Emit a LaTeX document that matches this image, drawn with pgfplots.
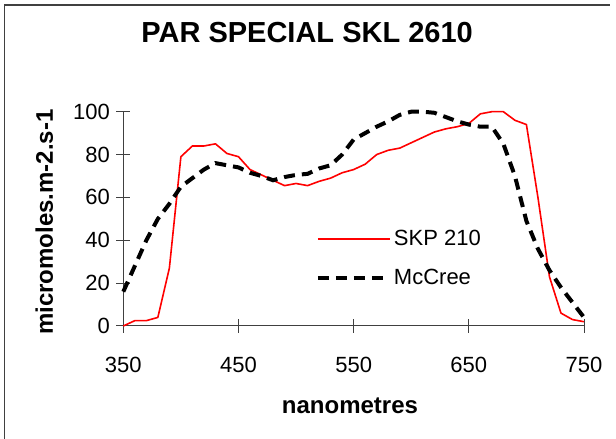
\documentclass[border=0pt]{standalone}
\usepackage{fontspec}
\setmainfont{Liberation Sans}
\usepackage{pgfplots}
\pgfplotsset{compat=1.18}
\begin{document}
\begin{tikzpicture}
\path[use as bounding box] (0,0) rectangle (616pt,439pt);
\begin{axis}[
  at={(123.3pt,113pt)}, anchor=south west,
  scale only axis, width=460.7pt, height=214.3pt,
  xmin=350, xmax=750, ymin=0, ymax=100,
  axis x line=bottom, axis y line=left,
  axis line style={black!75, line width=1pt, -},
  xtick={350,450,550,650,750}, ytick={0,20,40,60,80,100},
  tick align=center, major tick length=14pt,
  tick style={black!75, line width=1pt},
  /pgf/number format/assume math mode=true,
  /pgf/number format/set thousands separator={},
  ticklabel style={font=\fontsize{22}{26}\selectfont},
  xticklabel style={yshift=-21pt},
  yticklabel style={xshift=-3pt},
  title={\textbf{PAR SPECIAL SKL 2610}},
  title style={at={(axis description cs:0.399,1.2926)}, anchor=base, font=\fontsize{29}{34}\selectfont},
  xlabel={\textbf{nanometres}},
  xlabel style={at={(axis description cs:0.492,-0.406)}, anchor=base, font=\fontsize{24}{28}\selectfont},
  ylabel={\textbf{micromoles.m-2.s-1}},
  ylabel style={at={(axis description cs:-0.1526,0.485)}, anchor=base, font=\fontsize{24}{28}\selectfont},
  legend style={draw=none, fill=none, at={(axis cs:514.5,46.5)}, anchor=north west,
    font=\fontsize{22}{26}\selectfont, row sep=18pt},
  legend cell align=left,
  legend image code/.code={\draw[#1] (0pt,0pt) -- (72pt,0pt);},
  clip=false,
]
\addplot[red, line width=1.6pt, line join=round] coordinates {
(350,0) (360,2.5) (370,2.5) (380,4) (390,27) (400,79) (410,84) (420,84) (430,85)
(440,80.5) (450,79) (460,73) (470,70.5) (480,68) (490,65.5) (500,66.5) (510,65.5)
(520,67.5) (530,69) (540,71.5) (550,73) (560,75.5) (570,80) (580,82) (590,83)
(600,85.5) (610,88) (620,90.5) (630,92) (640,93) (650,94.5) (660,99) (670,100)
(680,100) (690,96) (700,94) (710,60) (720,23) (730,6) (740,3) (750,2)
};
\addlegendentry{SKP 210}
\addplot[black, line width=4pt, dash pattern=on 11pt off 7pt] coordinates {
(350,16) (360,28) (370,40) (380,50) (390,57) (400,65) (410,69) (420,73) (430,76)
(440,75) (450,74) (460,71.5) (470,70) (480,68) (490,69.5) (500,70.5) (510,71)
(520,73.5) (530,75) (540,80) (550,87) (560,90) (570,93) (580,95.5) (590,98.5)
(600,100) (610,100) (620,99.5) (630,97.5) (640,95.5) (650,94) (660,93) (670,93)
(680,85) (690,70) (700,49) (710,36) (720,26) (730,18) (740,11) (750,4)
};
\addlegendentry{McCree}
\end{axis}
\draw[black!75, line width=1.5pt] (4.5pt,0pt) -- (4.5pt,434pt) -- (610pt,434pt);
\end{tikzpicture}
\end{document}
